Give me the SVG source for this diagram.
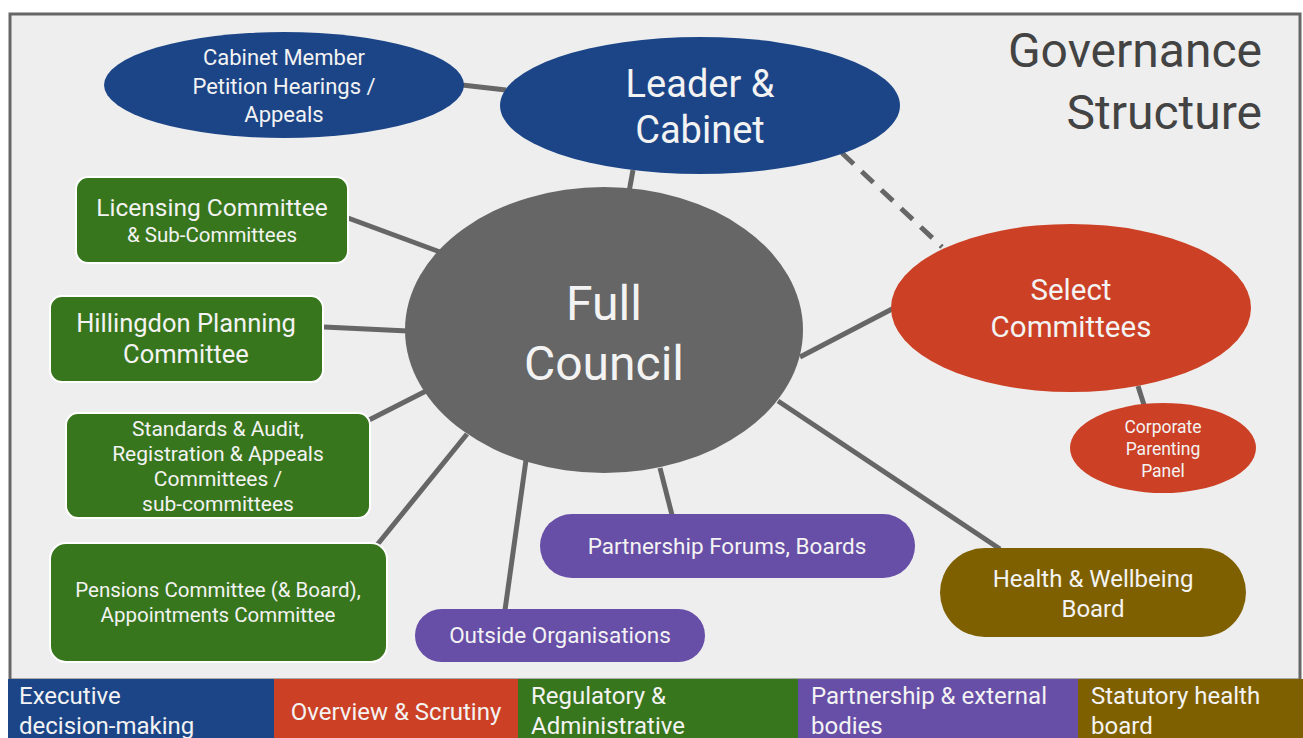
<svg xmlns="http://www.w3.org/2000/svg" width="1303" height="738" viewBox="0 0 1303 738">
<style>
text{font-family:Roboto,"Liberation Sans",sans-serif;fill:#f3f3f3;text-anchor:middle}
.conn{stroke:#666666;stroke-width:5;fill:none}
.blue{fill:#1c4587}.red{fill:#cc4125}.green{fill:#38761d}.purple{fill:#674ea7}.brown{fill:#7f6000}
.gbox{fill:#38761d;stroke:#ffffff;stroke-width:2}
.leg{text-anchor:start;font-size:24px}
</style>
<rect x="0" y="0" width="1303" height="738" fill="#ffffff"/>
<rect id="frame" x="10" y="14" width="1290" height="666" fill="#eeeeee" stroke="#666666" stroke-width="3"/>
<g id="title"><text x="1262" y="67" font-size="48" style="text-anchor:end;fill:#434343">Governance</text><text x="1262" y="129" font-size="48" style="text-anchor:end;fill:#434343">Structure</text></g>
<g id="connectors">
<line class="conn" x1="462" y1="85" x2="506" y2="90"/>
<line class="conn" x1="633" y1="170" x2="629" y2="192"/>
<line class="conn" x1="842" y1="153" x2="942" y2="247" stroke-dasharray="16,11"/>
<line class="conn" x1="348" y1="218" x2="440" y2="252"/>
<line class="conn" x1="324" y1="327" x2="408" y2="331"/>
<line class="conn" x1="369" y1="420" x2="428" y2="390"/>
<line class="conn" x1="377" y1="545" x2="467" y2="434"/>
<line class="conn" x1="526" y1="460" x2="505" y2="610"/>
<line class="conn" x1="660" y1="468" x2="672" y2="515"/>
<line class="conn" x1="800" y1="357" x2="894" y2="308"/>
<line class="conn" x1="778" y1="401" x2="1000" y2="549"/>
<line class="conn" x1="1138" y1="386" x2="1144" y2="405"/>
</g>
<g id="cabinet-member"><ellipse class="blue" cx="284" cy="85" rx="180" ry="53"/><text font-size="22" x="284" y="65">Cabinet Member</text><text font-size="22" x="284" y="94">Petition Hearings /</text><text font-size="22" x="284" y="122">Appeals</text></g>
<g id="leader-cabinet"><ellipse class="blue" cx="700" cy="105.5" rx="200" ry="68.5"/><text font-size="38" x="700" y="97">Leader &amp;</text><text font-size="38" x="700" y="143">Cabinet</text></g>
<g id="full-council"><ellipse cx="604" cy="330" rx="199" ry="143" fill="#666666"/><text font-size="48" x="604" y="320">Full</text><text font-size="48" x="604" y="380">Council</text></g>
<g id="select-committees"><ellipse class="red" cx="1071" cy="308" rx="180" ry="84"/><text font-size="29.5" x="1071" y="300">Select</text><text font-size="29.5" x="1071" y="337">Committees</text></g>
<g id="corporate-parenting"><ellipse class="red" cx="1163" cy="448" rx="93" ry="45"/><text font-size="17.5" x="1163" y="433">Corporate</text><text font-size="17.5" x="1163" y="455">Parenting</text><text font-size="17.5" x="1163" y="477">Panel</text></g>
<g id="licensing"><rect class="gbox" x="76" y="177" width="272" height="86" rx="12"/><text font-size="24.5" x="212" y="216">Licensing Committee</text><text font-size="20.5" x="212" y="242">&amp; Sub-Committees</text></g>
<g id="planning"><rect class="gbox" x="50" y="296" width="273" height="86" rx="12"/><text font-size="25.5" x="186" y="332">Hillingdon Planning</text><text font-size="25.5" x="186" y="363">Committee</text></g>
<g id="standards"><rect class="gbox" x="66" y="413" width="304" height="105" rx="12"/><text font-size="21" x="218" y="436">Standards &amp; Audit,</text><text font-size="21" x="218" y="461">Registration &amp; Appeals</text><text font-size="21" x="218" y="486">Committees /</text><text font-size="21" x="218" y="511">sub-committees</text></g>
<g id="pensions"><rect class="gbox" x="50" y="543" width="337" height="119" rx="16"/><text font-size="20.5" x="218" y="597">Pensions Committee (&amp; Board),</text><text font-size="20.5" x="218" y="622">Appointments Committee</text></g>
<g id="outside-orgs"><rect class="purple" x="415" y="609" width="290" height="53" rx="26.5"/><text font-size="22.5" x="560" y="643">Outside Organisations</text></g>
<g id="partnership-forums"><rect class="purple" x="540" y="514" width="375" height="64" rx="32"/><text font-size="22.5" x="727" y="554">Partnership Forums, Boards</text></g>
<g id="health-wellbeing"><rect class="brown" x="940" y="548" width="306" height="89" rx="44.5"/><text font-size="24" x="1093" y="587">Health &amp; Wellbeing</text><text font-size="24" x="1093" y="617">Board</text></g>
<g id="legend">
<rect class="blue" x="8" y="679" width="266" height="59"/>
<rect class="red" x="274" y="679" width="244" height="59"/>
<rect class="green" x="518" y="679" width="280" height="59"/>
<rect class="purple" x="798" y="679" width="280" height="59"/>
<rect class="brown" x="1078" y="679" width="225" height="59"/>
<text class="leg" x="19" y="704">Executive</text><text class="leg" x="19" y="734">decision-making</text>
<text font-size="24" x="396" y="720">Overview &amp; Scrutiny</text>
<text class="leg" x="531" y="704">Regulatory &amp;</text><text class="leg" x="531" y="734">Administrative</text>
<text class="leg" x="811" y="704">Partnership &amp; external</text><text class="leg" x="811" y="734">bodies</text>
<text class="leg" x="1091" y="704">Statutory health</text><text class="leg" x="1091" y="734">board</text>
</g>
</svg>
